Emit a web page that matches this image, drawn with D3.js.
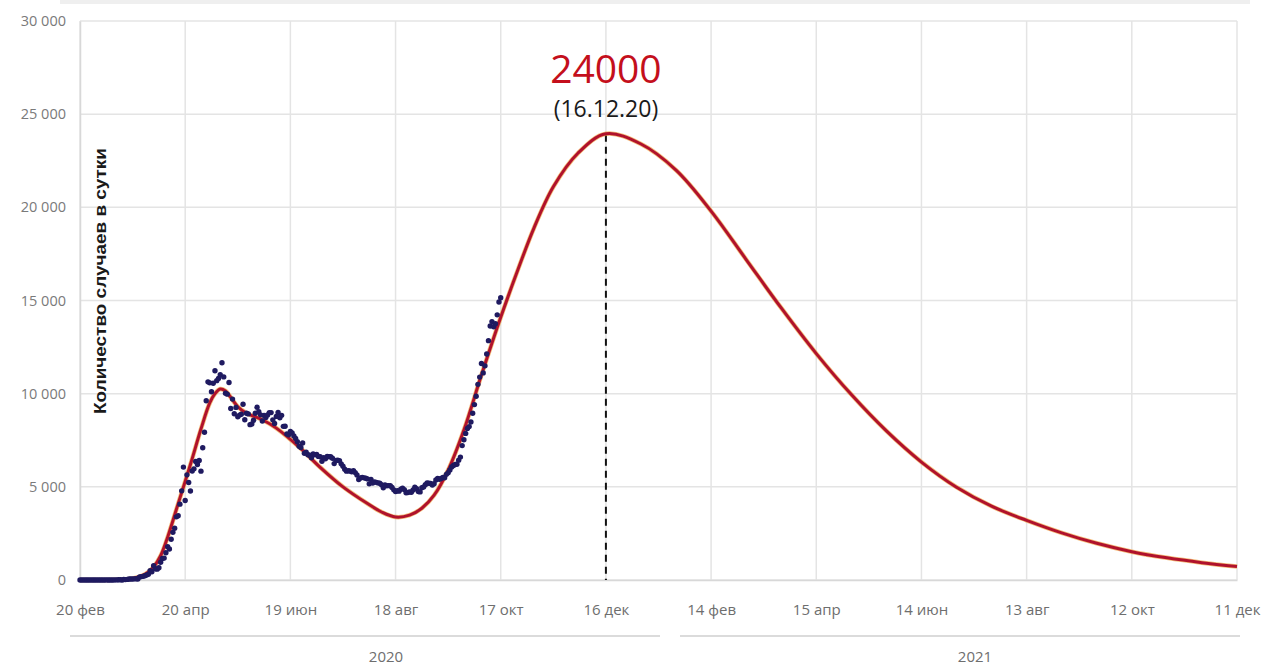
<!DOCTYPE html>
<html><head><meta charset="utf-8">
<script src="https://cdn.jsdelivr.net/npm/d3@7"></script>
<style>body{margin:0;background:#fff}svg{display:block}</style>
</head><body><svg id="c" width="1270" height="665"></svg>
<script>
// ---------- DATA ----------
const startDate = "2020-02-20";
const endDate = "2021-12-11";
const tickDates = ["2020-02-20","2020-04-20","2020-06-19","2020-08-18","2020-10-17","2020-12-16",
                   "2021-02-14","2021-04-15","2021-06-14","2021-08-13","2021-10-12","2021-12-11"];
const tickLabels = ["20 фев","20 апр","19 июн","18 авг","17 окт","16 дек",
                    "14 фев","15 апр","14 июн","13 авг","12 окт","11 дек"];
const yTicks = [0,5000,10000,15000,20000,25000,30000];
const yTickLabels = ["0","5 000","10 000","15 000","20 000","25 000","30 000"];
const yearLabels = ["2020","2021"];
const yAxisTitle = "Количество случаев в сутки";

// model curve: days since start, daily cases
const modelDays   = [0,20,30,37,42,46,50,56,63,69,74,77,80,83,86,90,95,104,112,126,137,150,164,172,180,188,195,202,210,219,229,240,250,259,270,284,300,320,340,360,380,400,420,440,460,480,500,520,540,560,580,600,620,640,660];
const modelValues = [0,10,80,300,700,1300,2300,4100,6200,8100,9500,10000,10250,10150,9800,9300,8950,8600,8150,7050,6050,5000,4100,3650,3380,3480,3850,4550,5900,8050,11000,14100,16700,18900,21100,22900,23950,23400,22000,19800,17200,14600,12150,9950,8000,6330,4980,3960,3200,2530,1970,1520,1190,930,720];

// observed daily cases, one value per day from startDate
const observed = [
 0,0,0,0,0,0,0,0,0,0,
 0,1,0,0,1,6,0,3,0,3,8,6,11,14,4,30,21,33,52,54,53,61,71,57,163,182,196,228,270,302,500,
 440,771,601,582,658,954,1154,1175,1459,1786,1667,2186,2558,2774,3388,3448,4070,4785,6060,4268,5642,5236,4774,5849,5966,6361,6198,6411,5841,7099,
 7933,9623,10633,10581,10102,10559,11231,10699,10817,11012,11656,10899,10028,9974,10598,9200,9709,8926,9263,8764,8849,8894,9434,8599,8946,8915,8338,8371,8572,8952,9268,
 9035,8863,8536,8831,8726,8855,8984,8985,8595,8404,8779,8987,8706,8835,8246,8248,7843,7790,7972,7889,7728,7600,7425,7176,7113,7350,6800,6852,6719,6693,
 6556,6760,6718,6736,6632,6611,6368,6562,6509,6635,6611,6615,6537,6248,6422,6428,6406,6234,6109,5940,5842,5862,5848,5811,5871,5765,5635,5395,5475,5509,5482,
 5462,5427,5159,5394,5204,5267,5241,5212,5189,5118,4945,5102,5057,5065,5061,4969,4839,4748,4790,4767,4870,4921,4852,4676,4696,4729,4711,4829,4980,4897,4744,
 4729,4952,4995,5110,5205,5195,5185,5099,5172,5363,5449,5406,5447,5509,5488,5670,5762,5905,6065,6148,6196,6215,6431,6595,7212,7523,7867,8135,8232,8481,
 8945,9412,9859,10499,10888,11615,11115,11493,12126,12846,13634,13868,13592,13754,14231,14922,15150
];

const peakDate = "2020-12-16";
const peakValue = 24000;
const peakLabel = "24000";
const peakDateLabel = "(16.12.20)";

// ---------- LAYOUT ----------
const L = {left:80, right:1237, top:21, bottom:580};
const parse = d3.utcParse("%Y-%m-%d");
const t0 = parse(startDate);
const dayToDate = d => d3.utcDay.offset(t0, d);

const x = d3.scaleUtc().domain([t0, parse(endDate)]).range([L.left, L.right]);
const y = d3.scaleLinear().domain([0, 30000]).range([L.bottom, L.top]);

const svg = d3.select("#c");

// faint cut-off band at very top
svg.append("rect").attr("x",60).attr("y",0).attr("width",1190).attr("height",4).attr("fill","#efefef");

// grid
const grid = svg.append("g").attr("stroke","#e4e4e4").attr("stroke-width",1.5);
grid.selectAll("line.h").data(yTicks).join("line")
  .attr("x1",L.left).attr("x2",L.right).attr("y1",d=>y(d)).attr("y2",d=>y(d));
grid.selectAll("line.v").data(tickDates).join("line")
  .attr("x1",d=>x(parse(d))).attr("x2",d=>x(parse(d))).attr("y1",L.top).attr("y2",L.bottom);

// axes with d3
const yAxis = d3.axisLeft(y).tickValues(yTicks).tickSize(0).tickPadding(14)
  .tickFormat((d,i)=>yTickLabels[i]);
const gy = svg.append("g").attr("transform",`translate(${L.left},0)`).call(yAxis);
gy.select(".domain").attr("stroke","#d8d8d8").attr("stroke-width",1.5);
gy.selectAll("text").attr("fill","#7a7a7a").attr("font-family","Open Sans, sans-serif").attr("font-size",14.5);

const xAxis = d3.axisBottom(x).tickValues(tickDates.map(parse)).tickSize(0).tickPadding(24)
  .tickFormat((d,i)=>tickLabels[i]);
const gx = svg.append("g").attr("transform",`translate(0,${L.bottom})`).call(xAxis);
gx.select(".domain").attr("stroke","#d8d8d8").attr("stroke-width",1.5);
gx.selectAll("text").attr("fill","#6e6e6e").attr("font-family","Open Sans, sans-serif").attr("font-size",15);

// year brackets
const yearLines = [[70,660],[680,1240]];
const yearCenters = [386,975];
yearLines.forEach((s,i)=>{
  svg.append("line").attr("x1",s[0]).attr("x2",s[1]).attr("y1",636).attr("y2",636)
     .attr("stroke","#cfcfcf").attr("stroke-width",1.5);
  svg.append("text").attr("x",yearCenters[i]).attr("y",662)
     .attr("text-anchor","middle").attr("fill","#6e6e6e")
     .attr("font-family","Open Sans, sans-serif").attr("font-size",15).text(yearLabels[i]);
});

// y axis title
svg.append("text").attr("transform","translate(106,281) rotate(-90)")
  .attr("text-anchor","middle").attr("font-family","Liberation Sans, Arial, sans-serif")
  .attr("font-weight","bold").attr("font-size",17).attr("fill","#1a1a1a")
  .attr("textLength",266).attr("lengthAdjust","spacingAndGlyphs").text(yAxisTitle);

// dashed peak line
svg.append("line").attr("x1",x(parse(peakDate))).attr("x2",x(parse(peakDate)))
  .attr("y1",y(23900)).attr("y2",y(0))
  .attr("stroke","#111").attr("stroke-width",2).attr("stroke-dasharray","7,5");

// model curve
const model = modelDays.map((d,i)=>({date:dayToDate(d), v:modelValues[i]}));
const line = d3.line().x(d=>x(d.date)).y(d=>y(d.v)).curve(d3.curveCatmullRom.alpha(0.5));
svg.append("path").datum(model).attr("d",line).attr("fill","none")
  .attr("stroke","#f0a040").attr("stroke-width",4.5).attr("stroke-opacity",0.7);
svg.append("path").datum(model).attr("d",line).attr("fill","none")
  .attr("stroke","#b0122c").attr("stroke-width",3);

// observed dots
svg.append("g").selectAll("circle").data(observed).join("circle")
  .attr("cx",(d,i)=>x(dayToDate(i))).attr("cy",d=>y(d)).attr("r",2.7)
  .attr("fill","#1f1a60");

// annotation
const px = x(parse(peakDate));
svg.append("text").attr("x",px).attr("y",y(peakValue)-50).attr("text-anchor","middle")
  .attr("font-family","Open Sans, sans-serif").attr("font-size",39).attr("fill","#c40f1c").text(peakLabel);
svg.append("text").attr("x",px).attr("y",y(peakValue)-16).attr("text-anchor","middle")
  .attr("font-family","Open Sans, sans-serif").attr("font-size",23).attr("fill","#1a1a1a").text(peakDateLabel);
</script></body></html>
